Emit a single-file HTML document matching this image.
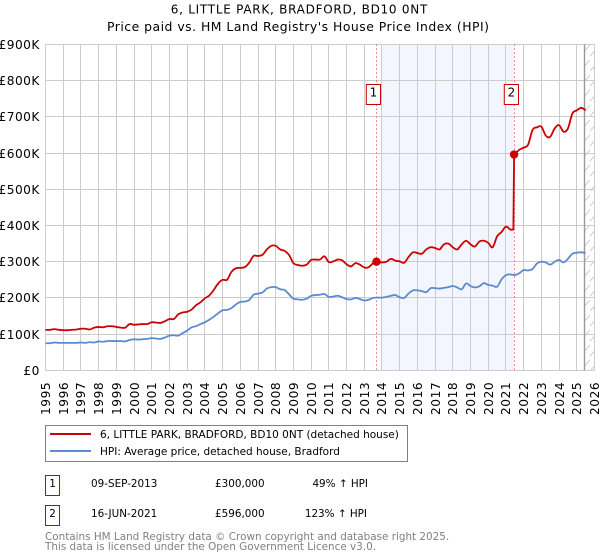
<!DOCTYPE html>
<html lang="en">
<head>
<meta charset="utf-8">
<title>6, LITTLE PARK, BRADFORD, BD10 0NT</title>
<style>
html,body{margin:0;padding:0;background:#fff;}
body{width:600px;height:560px;overflow:hidden;}
svg{display:block;font-family:"DejaVu Sans","Liberation Sans",sans-serif;}
</style>
</head>
<body>
<svg id="chart" xmlns="http://www.w3.org/2000/svg" width="600" height="560" viewBox="0 0 600 560">
  <defs>
    <pattern id="hatch" patternUnits="userSpaceOnUse" width="10" height="15">
      <path d="M0 11 L10 0 M0 26 L10 15" stroke="#cccccc" stroke-width="1" fill="none"/>
    </pattern>
  </defs>
  <text x="170.7" y="13.3" font-size="12" fill="#000" textLength="256.6" lengthAdjust="spacing">6, LITTLE PARK, BRADFORD, BD10 0NT</text>
  <text x="107" y="31" font-size="12.4" fill="#000" textLength="382" lengthAdjust="spacing">Price paid vs. HM Land Registry's House Price Index (HPI)</text>
  <g id="plot"></g>

  <g>
    <rect x="45.5" y="425.5" width="362" height="36" fill="#fff" stroke="#808080" stroke-width="1"/>
    <line x1="50" x2="91" y1="434" y2="434" stroke="#cc0000" stroke-width="2"/>
    <text x="100" y="438" font-size="10.5" fill="#000">6, LITTLE PARK, BRADFORD, BD10 0NT (detached house)</text>
    <line x1="50" x2="91" y1="451" y2="451" stroke="#5b8bd0" stroke-width="2"/>
    <text x="100" y="455" font-size="10.5" fill="#000">HPI: Average price, detached house, Bradford</text>
  </g>

  <g font-size="10.4" fill="#000">
    <rect x="45.5" y="475.5" width="14" height="20" fill="#fff" stroke="#cc0000"/>
    <text x="52.5" y="487" text-anchor="middle">1</text>
    <text x="91" y="487">09-SEP-2013</text>
    <text x="215" y="487">£300,000</text>
    <text x="368" y="487" text-anchor="end">49% ↑ HPI</text>
    <rect x="45.5" y="505.5" width="14" height="20" fill="#fff" stroke="#cc0000"/>
    <text x="52.5" y="517" text-anchor="middle">2</text>
    <text x="91" y="517">16-JUN-2021</text>
    <text x="215" y="517">£596,000</text>
    <text x="367" y="517" text-anchor="end">123% ↑ HPI</text>
  </g>

  <text x="45" y="540" font-size="10.4" fill="#808080">Contains HM Land Registry data © Crown copyright and database right 2025.</text>
  <text x="45" y="550" font-size="10.4" fill="#808080">This data is licensed under the Open Government Licence v3.0.</text>
</svg>

<script>
var yearTicks = [1995,1996,1997,1998,1999,2000,2001,2002,2003,2004,2005,2006,2007,2008,2009,2010,2011,2012,2013,2014,2015,2016,2017,2018,2019,2020,2021,2022,2023,2024,2025,2026];
var valueTicks = [0,100,200,300,400,500,600,700,800,900];
var valueTickLabels = ['£0','£100K','£200K','£300K','£400K','£500K','£600K','£700K','£800K','£900K'];

// HPI series, £K, one value per quarter from 1995 Q1
var hpiValues = [
75,75,77,76, 76,76,76,76, 77,76,78,77, 80,79,81,81, 81,81,80,84,
86,85,86,87, 89,88,87,91, 96,97,96,103, 110,119,122,128, 133,140,148,158,
166,167,172,182, 189,190,194,209, 212,215,226,230, 230,224,222,210, 198,196,195,198,
206,208,209,211, 203,204,206,202, 197,196,200,197, 193,195,200,201, 201,203,206,208,
202,200,212,221, 221,219,216,227, 227,226,228,230, 233,229,224,240, 233,229,232,241,
236,234,231,251, 263,265,263,268, 277,276,280,295, 300,298,292,300, 305,298,308,322,
325,326,324];

// Property series, £K, one value per quarter from 1995 Q1 up to 2021 Q2
var priceValues = [
112,112,114,112, 111,111,112,113, 115,115,113,118, 120,119,122,122, 120,118,118,128,
126,127,128,128, 133,132,131,136, 142,142,155,160, 162,168,180,188, 199,207,222,240,
250,250,272,282, 283,285,297,316, 316,319,334,344, 344,334,330,319, 296,291,289,292,
305,306,306,315, 299,301,306,304, 293,287,296,292, 284,285,296,300, 298,300,308,303,
301,297,313,326, 324,322,334,340, 338,334,348,350, 340,334,348,358, 348,342,356,358,
352,340,370,382, 397,389];
// Property series after the second sale
var priceTailDates = [2021.42,2021.46,2021.55,2021.75,2022,2022.25,2022.5,2022.75,2023,2023.25,2023.5,2023.75,2024,2024.25,2024.5,2024.75,2025,2025.25,2025.5];
var priceTailValues = [389,596,600,609,615,623,664,671,673,648,645,668,677,659,668,709,718,725,718];

var saleDates = [2013.69,2021.46];
var saleValues = [300,596];
var saleLabels = ['1','2'];
var shadedBand = [2014,2021.46];
var forecastStart = 2025.45;

function xScale(year){ return 45.5 + (year - 1995) * (549 / 31); }
function yScale(v){ return 370.4 - v * (326 / 900); }
var NS = 'http://www.w3.org/2000/svg';
var plot = document.getElementById('plot');
function make(tag, attrs, parent){
  var el = document.createElementNS(NS, tag);
  for (var k in attrs) el.setAttribute(k, attrs[k]);
  (parent || plot).appendChild(el);
  return el;
}
function snap(v){ return Math.round(v - 0.5) + 0.5; }
function isJump(vs, i){ return Math.abs(vs[i + 1] - vs[i]) > 100; }
function pathFrom(xs, vs){
  var d = 'M' + xScale(xs[0]).toFixed(2) + ' ' + yScale(vs[0]).toFixed(2);
  for (var i = 0; i < xs.length - 1; i++) {
    var x1 = xScale(xs[i]), y1 = yScale(vs[i]), x2 = xScale(xs[i + 1]), y2 = yScale(vs[i + 1]);
    if (isJump(vs, i)) { d += 'L' + x2.toFixed(2) + ' ' + y2.toFixed(2); continue; }
    var hasPrev = i > 0 && !isJump(vs, i - 1);
    var hasNext = i < xs.length - 2 && !isJump(vs, i + 1);
    var x0 = hasPrev ? xScale(xs[i - 1]) : x1, y0 = hasPrev ? yScale(vs[i - 1]) : y1;
    var x3 = hasNext ? xScale(xs[i + 2]) : x2, y3 = hasNext ? yScale(vs[i + 2]) : y2;
    d += 'C' + (x1 + (x2 - x0) / 6).toFixed(2) + ' ' + (y1 + (y2 - y0) / 6).toFixed(2) + ' ' +
         (x2 - (x3 - x1) / 6).toFixed(2) + ' ' + (y2 - (y3 - y1) / 6).toFixed(2) + ' ' +
         x2.toFixed(2) + ' ' + y2.toFixed(2);
  }
  return d;
}

var yTop = yScale(900), yBottom = yScale(0), xLeft = xScale(1995), xRight = xScale(2026);

var band = make('rect', {x:xScale(shadedBand[0]), y:yTop, width:xScale(shadedBand[1]) - xScale(shadedBand[0]), height:yBottom - yTop, fill:'#f3f6fe'});



yearTicks.forEach(function(year){
  var x = snap(xScale(year));
  var grid = make('line', {x1:x, x2:x, y1:snap(yTop), y2:snap(yBottom), stroke:'#cccccc', 'stroke-width':1});
  
  
  var label = make('text', {transform:'translate(' + (x + 4.5) + ',415) rotate(-90)', 'font-size':12.2, 'letter-spacing':0.55, fill:'#000'});
  label.textContent = year;
  
  
});

valueTicks.forEach(function(v, i){
  var y = snap(yScale(v));
  var grid = make('line', {x1:snap(xLeft), x2:snap(xRight), y1:y, y2:y, stroke:'#cccccc', 'stroke-width':1});
  
  
  var label = make('text', {x:39.8, y:y + 4.5, 'text-anchor':'end', 'font-size':12.2, 'letter-spacing':0.45, fill:'#000'});
  label.textContent = valueTickLabels[i];
  
  
});

var hatchRect = make('rect', {x:xScale(forecastStart), y:yTop, width:xRight - xScale(forecastStart), height:yBottom - yTop, fill:'url(#hatch)'});


var hatchEdge = make('line', {x1:snap(xScale(forecastStart)), x2:snap(xScale(forecastStart)), y1:yTop, y2:yBottom, stroke:'#999999', 'stroke-width':1.4});



saleDates.forEach(function(date){
  var x = snap(xScale(date));
  var guide = make('line', {x1:x, x2:x, y1:yTop, y2:yBottom, stroke:'#f06a78', 'stroke-width':1, 'stroke-dasharray':'1.5 2.5'});
  
  
});

var hpiDates = hpiValues.map(function(_, i){ return 1995 + i * 0.25; });
var hpiLine = make('path', {d:pathFrom(hpiDates, hpiValues), fill:'none', stroke:'#5b8bd0', 'stroke-width':1.8, 'stroke-linejoin':'round'});



var priceDates = priceValues.map(function(_, i){ return 1995 + i * 0.25; }).concat(priceTailDates);
var priceLine = make('path', {d:pathFrom(priceDates, priceValues.concat(priceTailValues)), fill:'none', stroke:'#cc0000', 'stroke-width':1.8, 'stroke-linejoin':'round'});



saleDates.forEach(function(date, i){
  var dot = make('circle', {cx:xScale(date), cy:yScale(saleValues[i]), r:4.2, fill:'#cc0000'});
  
  
  var x = snap(xScale(date)) - 10.2;
  var box = make('rect', {x:x, y:84.5, width:14.2, height:20, fill:'#fff', stroke:'#cc0000', 'stroke-width':1});
  
  
  var num = make('text', {x:x + 7.1, y:96.5, 'text-anchor':'middle', 'font-size':12, fill:'#000'});
  num.textContent = saleLabels[i];
  
  
});
</script>
</body>
</html>
